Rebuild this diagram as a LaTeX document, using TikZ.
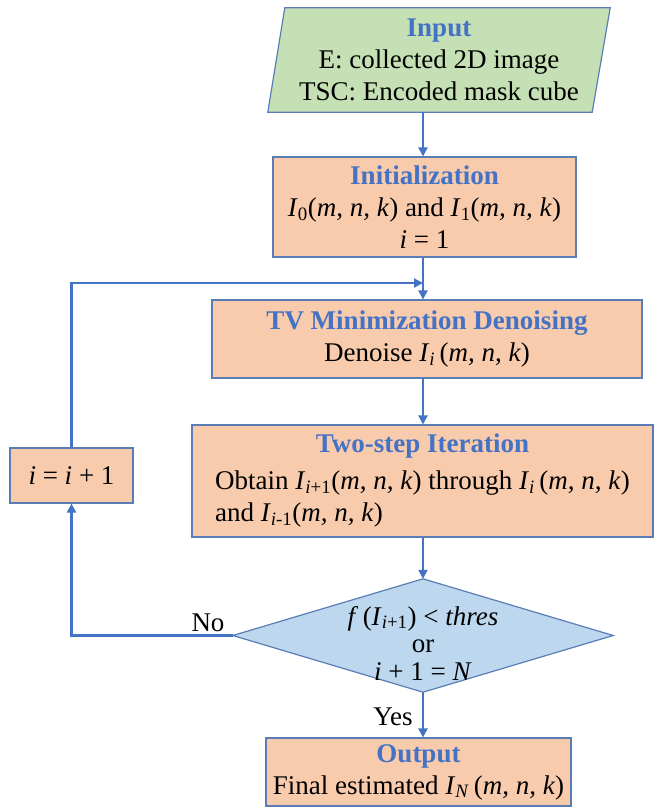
\documentclass[tikz,border=0pt]{standalone}
\usepackage{fontspec}
\setmainfont{Liberation Serif}
\usetikzlibrary{arrows.meta}
\definecolor{hblue}{HTML}{4472C4}
\definecolor{edgeblue}{HTML}{5B7DB5}
\definecolor{boxorange}{HTML}{F8CBAD}
\definecolor{boxgreen}{HTML}{C5E0B4}
\definecolor{boxblue}{HTML}{BDD7EE}
\newcommand\hd[1]{{\bfseries\color{hblue}#1}}
\newcommand\iv[1]{\textit{#1}}
\pgfdeclarelayer{bg}
\pgfsetlayers{bg,main}
\tikzset{
  box/.style={draw=edgeblue, line width=1.2pt, fill=boxorange, inner sep=0pt, align=center},
  plain/.style={inner sep=0pt, align=center},
  arr/.style={draw=hblue, line width=2.2pt, -{Triangle[length=9pt,width=9pt]}},
  shapeedge/.style={draw=edgeblue, line width=1.2pt, line join=miter}
}
\begin{document}
\begin{tikzpicture}[x=1pt,y=-1pt,font=\fontsize{27}{32}\selectfont]
\path[use as bounding box] (0,0) rectangle (654,807);

% input parallelogram (text node, shape drawn on bg layer)
\node[plain, minimum width=342pt, minimum height=104pt] (in) at (439,60)
  {\hd{Input}\\E: collected 2D image\\TSC: Encoded mask cube};

\node[box, minimum width=303pt, minimum height=100pt] (init) at (424.5,207)
  {\hd{Initialization}\\\iv{I}\textsubscript{0}(\iv{m, n, k}) and \iv{I}\textsubscript{1}(\iv{m, n, k})\\\iv{i} = 1};

\node[box, minimum width=430pt, minimum height=78pt] (tv) at (427,339)
  {\hd{TV Minimization Denoising}\\Denoise \iv{I}\textsubscript{\iv{i}}\,(\iv{m, n, k})};

\node[box, minimum width=461pt, minimum height=112pt] (two) at (422.5,481)
  {\begin{tabular}{@{}l@{}}\multicolumn{1}{@{}c@{}}{\hd{Two-step Iteration}}\\[5pt]
   Obtain \iv{I}\textsubscript{\iv{i}+1}(\iv{m, n, k}) through \iv{I}\textsubscript{\iv{i}}\,(\iv{m, n, k})\\
   and \iv{I}\textsubscript{\iv{i}-1}(\iv{m, n, k})\end{tabular}};

\node[box, minimum width=123pt, minimum height=55pt] (inc) at (71.5,475.5)
  {\iv{i} = \iv{i} + 1};

\node[plain, minimum width=380pt, minimum height=113pt] (dec) at (423,635.5) {};
\node[plain, font=\fontsize{27}{27.5}\selectfont] (dectext) at (423,643)
  {\iv{f}\,(\iv{I}\textsubscript{\iv{i}+1}) < \iv{thres}\\or\\\iv{i} + 1 = \iv{N}};

\node[box, minimum width=305pt, minimum height=68pt] (out) at (418.5,772)
  {\hd{Output}\\Final estimated \iv{I}\textsubscript{\iv{N}}\,(\iv{m, n, k})};

\node[plain] (no) at (208,623) {No};
\node[plain] (yes) at (393,717) {Yes};

\begin{pgfonlayer}{bg}
  \draw[shapeedge, fill=boxgreen] ([xshift=17pt]in.north west) -- (in.north east)
     -- ([xshift=-18pt]in.south east) -- (in.south west) -- cycle;
  \draw[shapeedge, fill=boxblue] (dec.west) -- (dec.north) -- (dec.east) -- (dec.south) -- cycle;
\end{pgfonlayer}

\coordinate (fb) at (423,283);

\draw[arr] (in.south -| dec.north) -- (init.north -| dec.north);
\draw[arr] (init.south -| dec.north) -- (tv.north -| dec.north);
\draw[arr] (tv.south -| dec.north) -- (two.north -| dec.north);
\draw[arr] (two.south -| dec.north) -- (dec.north);
\draw[arr] (dec.south) -- (out.north -| dec.south);
\draw[arr] (dec.west) -| (inc.south);
\draw[arr] (inc.north) |- (fb);
\end{tikzpicture}
\end{document}
